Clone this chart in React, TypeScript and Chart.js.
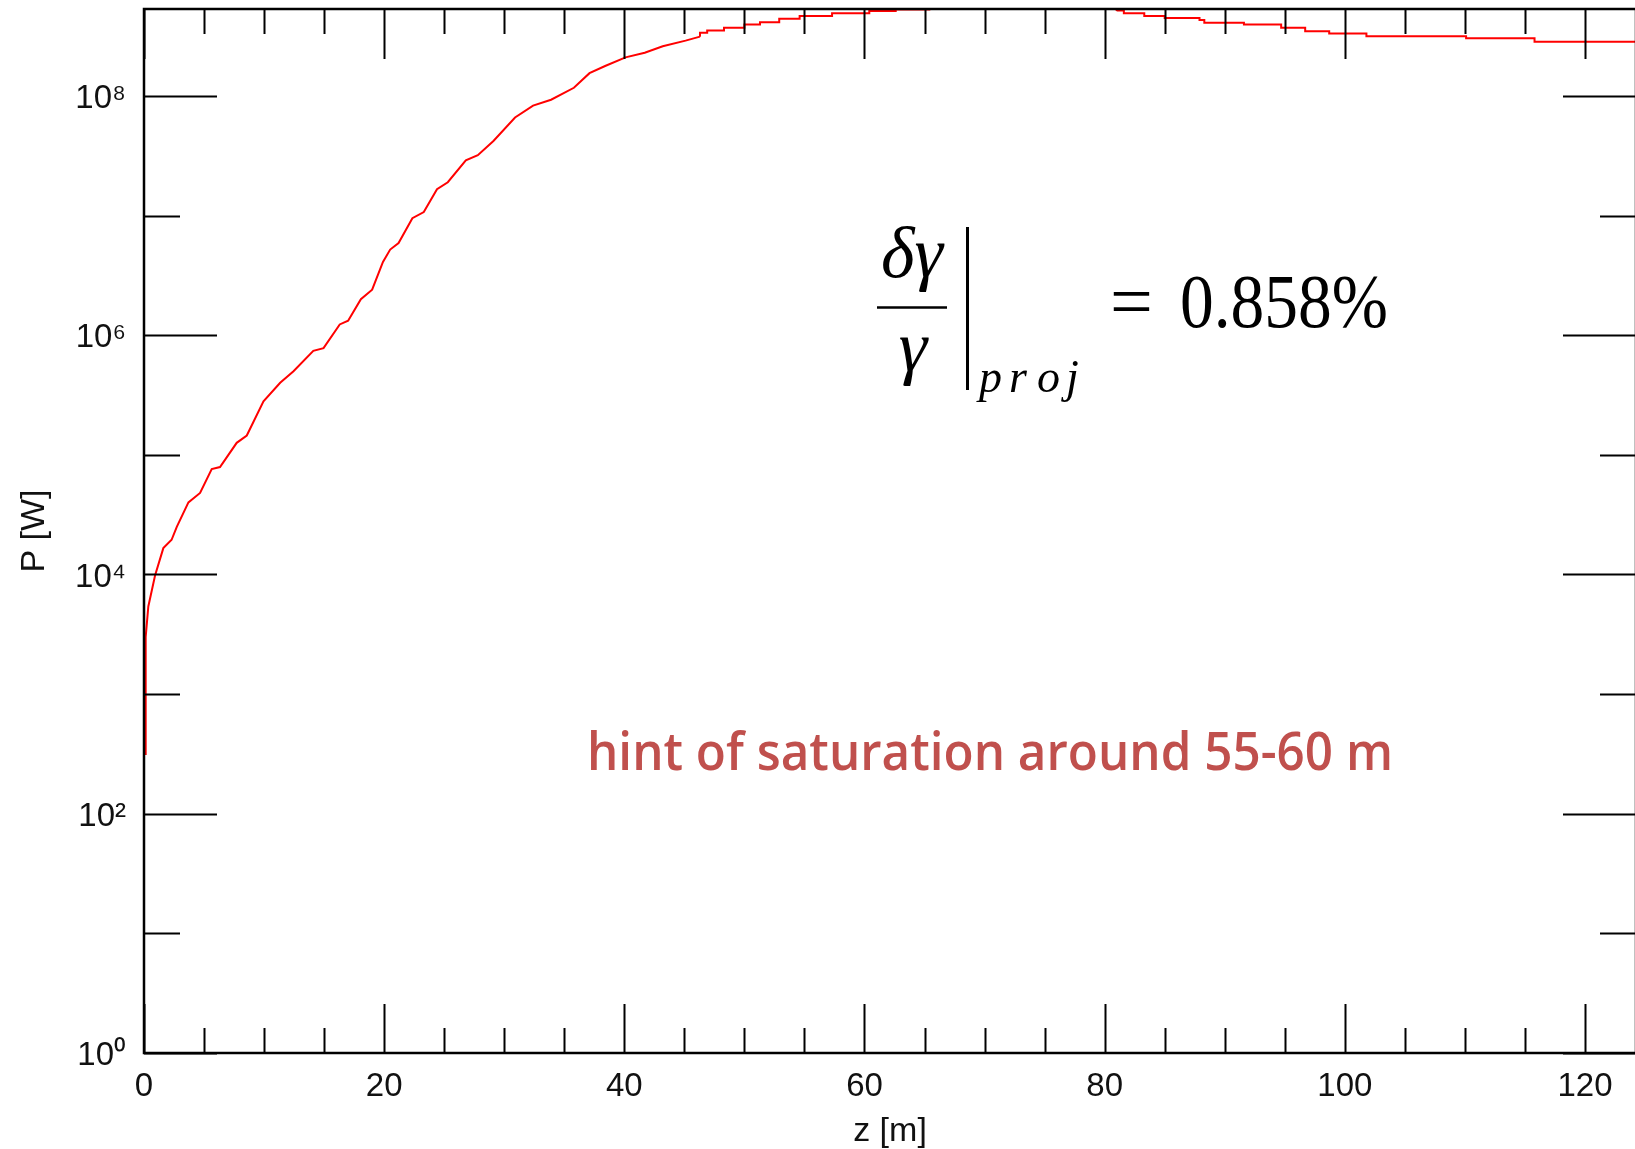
import { useEffect, useRef } from "react";
import { Chart, registerables } from "chart.js";

Chart.register(...registerables);

// ---------- data ----------
// growth region: z [m] and power P [W]
const riseZ = [
  0.14, 0.14, 0.36, 0.92, 1.61, 2.3, 2.73, 3.7, 4.67, 5.64, 6.33, 7.72, 8.56, 9.95,
  11.34, 12.45, 14.1, 14.95, 16.3, 17.0, 18.06, 19.0, 19.9, 20.5, 21.2, 22.35, 23.3,
  24.4, 25.3, 26.8, 27.8, 29.1, 30.9, 32.4, 33.9, 35.8, 37.1, 38.4, 40.1, 41.7, 43.2,
  45.1, 46.3,
];
const riseP = [
  3.1e2, 3.0e3, 5.4e3, 9.8e3, 1.66e4, 1.95e4, 2.5e4, 4.0e4, 4.8e4, 7.6e4, 7.9e4, 1.26e5,
  1.45e5, 2.8e5, 4.0e5, 5.0e5, 7.4e5, 7.8e5, 1.23e6, 1.32e6, 2.0e6, 2.4e6, 4.1e6, 5.2e6,
  5.9e6, 9.5e6, 1.07e7, 1.66e7, 1.9e7, 2.9e7, 3.2e7, 4.2e7, 6.6e7, 8.3e7, 9.3e7, 1.17e8,
  1.55e8, 1.78e8, 2.1e8, 2.3e8, 2.6e8, 2.9e8, 3.13e8,
];
// saturation region (staircase): plateau start z and plateau power
// (the curve leaves the top of the frame between ~65.7 m and ~81 m: null = not visible)
const satZ = [
  46.3, 46.9, 48.3, 50.0, 51.3, 52.9, 54.6, 57.3, 60.4, 62.6, 65.4, 65.7, 73.0, 81.0, 81.0,
  81.6, 83.3, 85.0, 87.9, 88.3, 91.6, 94.7, 96.7, 98.7, 101.8, 110.1, 115.8, 119.1, 124.3,
];
const satP = [
  3.13e8, 3.37e8, 3.53e8, 3.72e8, 3.96e8, 4.14e8, 4.42e8, 4.66e8, 4.9e8, 5.12e8, 5.28e8,
  5.8e8, null, 5.8e8, 5.12e8, 5.19e8, 4.9e8, 4.66e8, 4.48e8, 4.31e8, 4.09e8, 3.96e8,
  3.72e8, 3.48e8, 3.33e8, 3.16e8, 3.03e8, 2.84e8, 2.84e8,
];

const xMajorTicks = [0, 20, 40, 60, 80, 100, 120];
const xMinorTicks = [5, 10, 15, 25, 30, 35, 45, 50, 55, 65, 70, 75, 85, 90, 95, 105, 110, 115];
const yExponents = [0, 1, 2, 3, 4, 5, 6, 7, 8];
const yLabelExponents = [0, 2, 4, 6, 8];
const SUP = ["⁰", "¹", "²", "³", "⁴", "⁵", "⁶", "⁷", "⁸", "⁹"];

const X_MIN = 0;
const X_MAX = 124.25;
const Y_MIN = 1;
const Y_MAX = 5.33e8;

const xTitle = "z [m]";
const yTitle = "P [W]";
const noteText = "hint of saturation around 55-60 m";

// ---------- layout ----------
const CANVAS_W = 1660;
const CANVAS_H = 1149;
const PLOT_RIGHT = 1636;

const frameAndTicks = {
  id: "frameAndTicks",
  afterDatasetsDraw(chart: any) {
    const { ctx, chartArea, scales } = chart;
    const { left, right, top, bottom } = chartArea;
    const xs = scales.x;
    const ys = scales.y;
    ctx.save();
    // keep the curve inside the frame
    ctx.fillStyle = "#fff";
    ctx.fillRect(0, 0, chart.width, top);
    ctx.strokeStyle = "#000";
    ctx.lineWidth = 2;
    ctx.beginPath();
    const vline = (px: number, y0: number, y1: number) => {
      ctx.moveTo(px, y0);
      ctx.lineTo(px, y1);
    };
    const hline = (py: number, x0: number, x1: number) => {
      ctx.moveTo(x0, py);
      ctx.lineTo(x1, py);
    };
    xMajorTicks.forEach((v) => {
      const px = Math.round(xs.getPixelForValue(v)) + 0.5;
      vline(px, bottom, bottom - 49);
      vline(px, top, top + 50);
    });
    xMinorTicks.forEach((v) => {
      const px = Math.round(xs.getPixelForValue(v)) + 0.5;
      vline(px, bottom, bottom - 25);
      vline(px, top, top + 25);
    });
    yExponents.forEach((e) => {
      const py = Math.round(ys.getPixelForValue(Math.pow(10, e))) + 0.5;
      const len = e % 2 === 0 ? 73 : 36;
      hline(py, left, left + len);
      hline(py, right - len, right);
    });
    ctx.stroke();
    ctx.lineWidth = 2.5;
    ctx.strokeRect(left, top, right - left, bottom - top);
    ctx.restore();
  },
  afterDraw(chart: any) {
    const { ctx } = chart;
    ctx.save();
    ctx.fillStyle = "#000";
    ctx.strokeStyle = "#000";
    ctx.textBaseline = "alphabetic";
    // formula: (δγ / γ)|_proj = 0.858%
    ctx.font = "italic 72px 'Liberation Serif'";
    ctx.textAlign = "center";
    ctx.fillText("δγ", 912, 277);
    ctx.fillText("γ", 913, 371);
    ctx.lineWidth = 2.5;
    ctx.beginPath();
    ctx.moveTo(877, 307.5);
    ctx.lineTo(947, 307.5);
    ctx.stroke();
    ctx.lineWidth = 3;
    ctx.beginPath();
    ctx.moveTo(967.5, 227);
    ctx.lineTo(967.5, 390);
    ctx.stroke();
    ctx.textAlign = "left";
    ctx.font = "italic 46px 'Liberation Serif'";
    const sub = ["p", "r", "o", "j"];
    const subX = [979, 1009, 1037, 1066];
    sub.forEach((c, i) => ctx.fillText(c, subX[i], 392));
    ctx.font = "76px 'Liberation Serif'";
    ctx.fillText("=", 1110, 327);
    ctx.fillText("0.858%", 1180, 327, 208);
    // note
    ctx.fillStyle = "#c0504d";
    ctx.font = "600 52px 'Open Sans'";
    ctx.fillText(noteText, 587, 770, 806);
    ctx.restore();
  },
};

export default function App() {
  const ref = useRef<HTMLCanvasElement | null>(null);

  useEffect(() => {
    const canvas = ref.current;
    if (!canvas) return;
    const chart = new Chart(canvas, {
      type: "line",
      data: {
        datasets: [
          {
            data: riseZ.map((z, i) => ({ x: z, y: riseP[i] })),
            borderColor: "#ff0000",
            borderWidth: 2,
            pointRadius: 0,
            fill: false,
            tension: 0,
          },
          {
            data: satZ.map((z, i) => ({ x: z, y: satP[i] })),
            borderColor: "#ff0000",
            borderWidth: 2,
            pointRadius: 0,
            fill: false,
            spanGaps: false,
            stepped: "after",
          },
        ],
      },
      options: {
        responsive: false,
        animation: false,
        devicePixelRatio: 1,
        layout: { padding: { top: 9, right: CANVAS_W - PLOT_RIGHT, bottom: 0, left: 0 } },
        plugins: { legend: { display: false }, tooltip: { enabled: false } },
        scales: {
          x: {
            type: "linear",
            position: "bottom",
            min: X_MIN,
            max: X_MAX,
            bounds: "data",
            afterBuildTicks: (scale: any) => {
              scale.ticks = xMajorTicks.map((v) => ({ value: v }));
            },
            afterFit: (scale: any) => {
              scale.height = 96;
              scale.paddingLeft = 0;
              scale.paddingRight = 0;
            },
            grid: { display: false, drawTicks: false },
            border: { display: false },
            ticks: {
              autoSkip: false,
              maxRotation: 0,
              padding: 14,
              color: "#111",
              font: { family: "'Liberation Sans'", size: 33 },
              callback: (v: any) => String(v),
            },
            title: {
              display: true,
              text: xTitle,
              color: "#111",
              font: { family: "'Liberation Sans'", size: 34, lineHeight: 1 },
              padding: { top: 0, bottom: 0 },
            },
          },
          y: {
            type: "logarithmic",
            position: "left",
            min: Y_MIN,
            max: Y_MAX,
            bounds: "data",
            afterBuildTicks: (scale: any) => {
              scale.ticks = yExponents.map((e) => ({ value: Math.pow(10, e) }));
            },
            afterFit: (scale: any) => {
              scale.width = 144;
              scale.paddingTop = 0;
              scale.paddingBottom = 0;
            },
            grid: { display: false, drawTicks: false },
            border: { display: false },
            ticks: {
              autoSkip: false,
              padding: 18,
              labelOffset: 3,
              color: "#111",
              font: { family: "'Liberation Sans'", size: 33 },
              callback: (v: any) => {
                const e = Math.round(Math.log10(Number(v)));
                return yLabelExponents.includes(e) ? "10" + SUP[e] : "";
              },
            },
            title: {
              display: true,
              text: yTitle,
              color: "#111",
              font: { family: "'Liberation Sans'", size: 34, lineHeight: 1 },
              padding: { top: 18, bottom: 0 },
            },
          },
        },
      },
      plugins: [frameAndTicks],
    } as any);
    return () => chart.destroy();
  }, []);

  return (
    <div
      style={{
        position: "fixed",
        left: 0,
        top: 0,
        width: 1635,
        height: 1149,
        overflow: "hidden",
        background: "#fff",
      }}
    >
      <canvas
        ref={ref}
        width={CANVAS_W}
        height={CANVAS_H}
        style={{ display: "block", width: CANVAS_W, height: CANVAS_H }}
      />
    </div>
  );
}
